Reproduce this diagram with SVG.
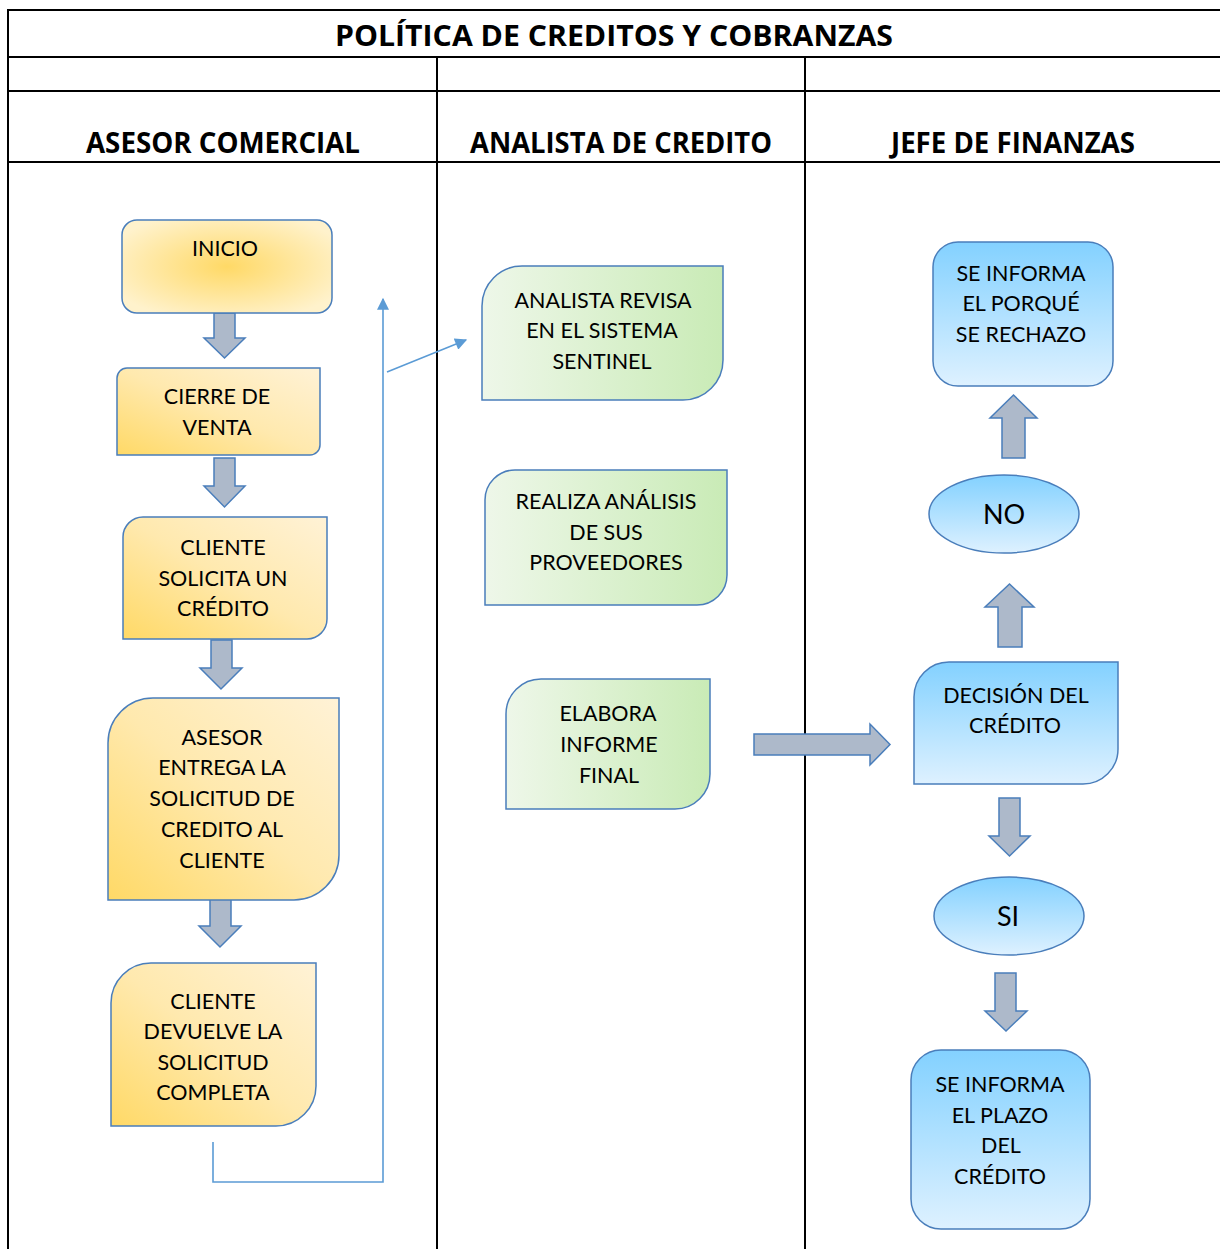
<svg xmlns="http://www.w3.org/2000/svg" width="1220" height="1249" viewBox="0 0 1220 1249">
<style>
.grid{stroke:#000;stroke-width:2;fill:none}
.hdr{font-family:"Open Sans","Liberation Sans",sans-serif;font-weight:bold;font-size:28px;fill:#000;text-anchor:middle}
.lbl{font-family:Lato,"Liberation Sans",sans-serif;font-size:21.5px;fill:#000;text-anchor:middle}
.big{font-family:Lato,"Liberation Sans",sans-serif;font-size:27px;fill:#000;text-anchor:middle}
.shp{stroke:#4A7EBB;stroke-width:1.5}
.blk{fill:#ADB9CA;stroke:#4A7EBB;stroke-width:1.5}
.con{stroke:#5B9BD5;stroke-width:1.6;fill:none}
</style>
<defs>
<radialGradient id="gRad" cx="0.5" cy="0.5" r="0.6">
<stop offset="0" stop-color="#FFD966"/>
<stop offset="1" stop-color="#FFF2CC"/>
</radialGradient>
<linearGradient id="gGold" x1="0" y1="1" x2="1" y2="0">
<stop offset="0" stop-color="#FFD966"/>
<stop offset="0.5" stop-color="#FFE9AE"/>
<stop offset="1" stop-color="#FFF2D6"/>
</linearGradient>
<linearGradient id="gGreen" x1="0" y1="0" x2="1" y2="0">
<stop offset="0" stop-color="#EEF7E9"/>
<stop offset="1" stop-color="#C9EBB6"/>
</linearGradient>
<linearGradient id="gBlue" x1="0" y1="0" x2="0" y2="1">
<stop offset="0" stop-color="#83D1FF"/>
<stop offset="1" stop-color="#DEF1FF"/>
</linearGradient>
<marker id="ah" viewBox="0 0 10 10" refX="9" refY="5" markerWidth="13" markerHeight="12" markerUnits="userSpaceOnUse" orient="auto">
<path d="M0,0 L10,5 L0,10 Z" fill="#5B9BD5"/>
</marker>
</defs>

<g id="table">
<line class="grid" x1="8" y1="10" x2="1220" y2="10"/>
<line class="grid" x1="8" y1="9" x2="8" y2="1249"/>
<line class="grid" x1="8" y1="57" x2="1220" y2="57"/>
<line class="grid" x1="8" y1="91" x2="1220" y2="91"/>
<line class="grid" x1="8" y1="162" x2="1220" y2="162"/>
<line class="grid" x1="437" y1="57" x2="437" y2="1249"/>
<line class="grid" x1="805" y1="57" x2="805" y2="1249"/>
<text class="hdr" x="614" y="46" textLength="558" lengthAdjust="spacingAndGlyphs">POLÍTICA DE CREDITOS Y COBRANZAS</text>
<text class="hdr" x="223" y="153" textLength="274" lengthAdjust="spacingAndGlyphs">ASESOR COMERCIAL</text>
<text class="hdr" x="621" y="153" textLength="302" lengthAdjust="spacingAndGlyphs">ANALISTA DE CREDITO</text>
<text class="hdr" x="1013" y="153" textLength="244" lengthAdjust="spacingAndGlyphs">JEFE DE FINANZAS</text>
</g>

<g id="connectors">
<polygon class="blk" points="214,313 235,313 235,338 245,338 224.5,358 204,338 214,338"/>
<polygon class="blk" points="214,458 235,458 235,486 245,486 224.5,507 204,486 214,486"/>
<polygon class="blk" points="211,640 232,640 232,668 242,668 221,689 200,668 211,668"/>
<polygon class="blk" points="210,898 231,898 231,926 241,926 220,947 199,926 210,926"/>
<polygon class="blk" points="754,734 870,734 870,724 890,744.5 870,765 870,755 754,755"/>
<polygon class="blk" points="1013.5,395 1037,418 1025,418 1025,458 1002,458 1002,418 990,418"/>
<polygon class="blk" points="1009.5,584 1034,607 1022,607 1022,647 998,647 998,607 985,607"/>
<polygon class="blk" points="999,798 1020,798 1020,836 1030,836 1009.5,856 989,836 999,836"/>
<polygon class="blk" points="995,973 1016,973 1016,1011 1027,1011 1006,1031 985,1011 995,1011"/>
<polyline class="con" points="213,1142 213,1182 383,1182 383,299" marker-end="url(#ah)"/>
<line class="con" x1="387" y1="372" x2="466" y2="340" marker-end="url(#ah)"/>
</g>

<g id="n-inicio">
<rect class="shp" x="122" y="220" width="210" height="93" rx="15" fill="url(#gRad)"/>
<text class="lbl" x="225" y="256">INICIO</text>
</g>
<g id="n-cierre">
<path class="shp" fill="url(#gGold)" d="M127,368 H320 V445 A10,10 0 0 1 310,455 H117 V378 A10,10 0 0 1 127,368 Z"/>
<text class="lbl" x="217" y="404">CIERRE DE</text>
<text class="lbl" x="217" y="435">VENTA</text>
</g>
<g id="n-solicita">
<path class="shp" fill="url(#gGold)" d="M143,517 H327 V619 A20,20 0 0 1 307,639 H123 V537 A20,20 0 0 1 143,517 Z"/>
<text class="lbl" x="223" y="555">CLIENTE</text>
<text class="lbl" x="223" y="586">SOLICITA UN</text>
<text class="lbl" x="223" y="616">CRÉDITO</text>
</g>
<g id="n-entrega">
<path class="shp" fill="url(#gGold)" d="M153,698 H339 V855 A45,45 0 0 1 294,900 H108 V743 A45,45 0 0 1 153,698 Z"/>
<text class="lbl" x="222" y="745">ASESOR</text>
<text class="lbl" x="222" y="775">ENTREGA LA</text>
<text class="lbl" x="222" y="806">SOLICITUD DE</text>
<text class="lbl" x="222" y="837">CREDITO AL</text>
<text class="lbl" x="222" y="868">CLIENTE</text>
</g>
<g id="n-devuelve">
<path class="shp" fill="url(#gGold)" d="M151,963 H316 V1086 A40,40 0 0 1 276,1126 H111 V1003 A40,40 0 0 1 151,963 Z"/>
<text class="lbl" x="213" y="1009">CLIENTE</text>
<text class="lbl" x="213" y="1039">DEVUELVE LA</text>
<text class="lbl" x="213" y="1070">SOLICITUD</text>
<text class="lbl" x="213" y="1100">COMPLETA</text>
</g>

<g id="n-revisa">
<path class="shp" fill="url(#gGreen)" d="M522,266 H723 V360 A40,40 0 0 1 683,400 H482 V306 A40,40 0 0 1 522,266 Z"/>
<text class="lbl" x="603" y="308">ANALISTA REVISA</text>
<text class="lbl" x="602" y="338">EN EL SISTEMA</text>
<text class="lbl" x="602" y="369">SENTINEL</text>
</g>
<g id="n-analisis">
<path class="shp" fill="url(#gGreen)" d="M515,470 H727 V575 A30,30 0 0 1 697,605 H485 V500 A30,30 0 0 1 515,470 Z"/>
<text class="lbl" x="606" y="509">REALIZA ANÁLISIS</text>
<text class="lbl" x="606" y="540">DE SUS</text>
<text class="lbl" x="606" y="570">PROVEEDORES</text>
</g>
<g id="n-elabora">
<path class="shp" fill="url(#gGreen)" d="M541,679 H710 V774 A35,35 0 0 1 675,809 H506 V714 A35,35 0 0 1 541,679 Z"/>
<text class="lbl" x="608" y="721">ELABORA</text>
<text class="lbl" x="609" y="752">INFORME</text>
<text class="lbl" x="609" y="783">FINAL</text>
</g>

<g id="n-rechazo">
<rect class="shp" x="933" y="242" width="180" height="144" rx="25" fill="url(#gBlue)"/>
<text class="lbl" x="1021" y="281">SE INFORMA</text>
<text class="lbl" x="1021" y="311">EL PORQUÉ</text>
<text class="lbl" x="1021" y="342">SE RECHAZO</text>
</g>
<g id="n-no">
<ellipse class="shp" cx="1004" cy="514" rx="75" ry="39" fill="url(#gBlue)"/>
<text class="big" x="1004" y="524">NO</text>
</g>
<g id="n-decision">
<path class="shp" fill="url(#gBlue)" d="M949,662 H1118 V749 A35,35 0 0 1 1083,784 H914 V697 A35,35 0 0 1 949,662 Z"/>
<text class="lbl" x="1016" y="703">DECISIÓN DEL</text>
<text class="lbl" x="1015" y="733">CRÉDITO</text>
</g>
<g id="n-si">
<ellipse class="shp" cx="1009" cy="916" rx="75" ry="39" fill="url(#gBlue)"/>
<text class="big" x="1008" y="926">SI</text>
</g>
<g id="n-plazo">
<rect class="shp" x="911" y="1050" width="179" height="179" rx="30" fill="url(#gBlue)"/>
<text class="lbl" x="1000" y="1092">SE INFORMA</text>
<text class="lbl" x="1000" y="1123">EL PLAZO</text>
<text class="lbl" x="1001" y="1153">DEL</text>
<text class="lbl" x="1000" y="1184">CRÉDITO</text>
</g>
</svg>
